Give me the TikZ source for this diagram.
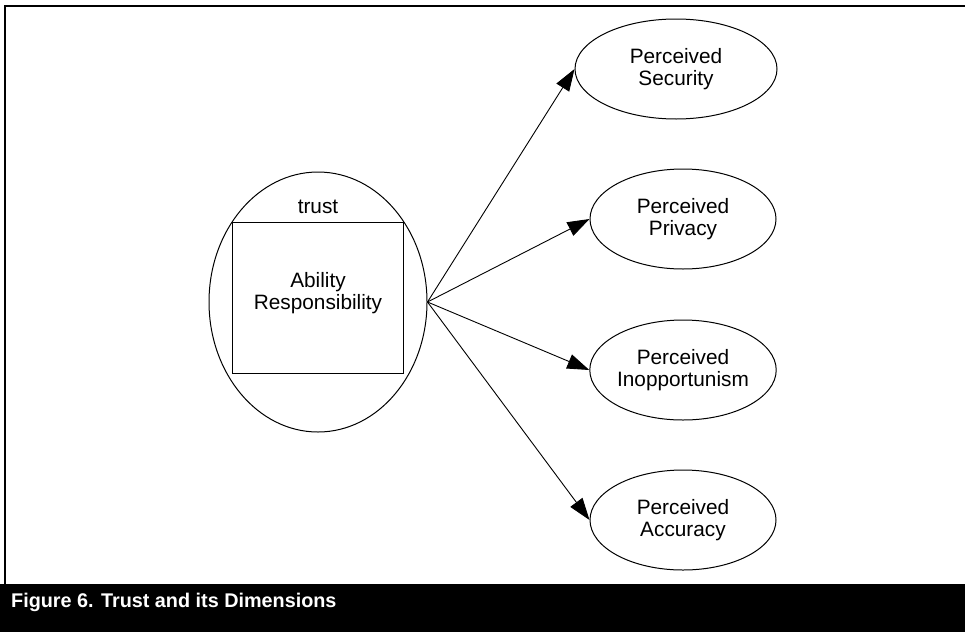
\documentclass[tikz,border=0pt]{standalone}
\usepackage{fontspec}
\setmainfont{Liberation Sans}
\usetikzlibrary{shapes.geometric,arrows.meta}
\tikzset{
  lbl/.style={font=\fontsize{20.8}{22.5}\selectfont, align=center, inner sep=0pt},
  dim/.style={ellipse, draw, line width=1pt, minimum width=186pt, minimum height=100pt, inner sep=0pt,
              font=\fontsize{20.8}{22.5}\selectfont, align=center},
  conn/.style={line width=0.9pt, -{Triangle[length=22pt,width=15pt]}}
}
\begin{document}
\begin{tikzpicture}[x=1pt,y=-1pt]
\useasboundingbox (0,0) rectangle (965,632);
% frame
\draw[line width=2.6pt] (5,590) -- (5,6) -- (975,6);
\fill[black] (0,584) rectangle (965,632);
\node[anchor=base west, inner sep=0pt, text=white, font=\fontsize{19.8}{22}\selectfont\bfseries] (cap) at (11,607) {Figure 6. Trust and its Dimensions};
% trust construct
\node[ellipse, draw, line width=1pt, minimum width=218pt, minimum height=260pt, inner sep=0pt] (trust) at (318,302) {};
\node[draw, line width=1pt, minimum width=171pt, minimum height=151pt, inner sep=0pt] (box) at (317.5,297.5) {};
\node[lbl, anchor=base] (tlabel) at (318,213) {trust};
\node[lbl] (ar) at (318,293) {Ability\\Responsibility};
% dimensions
\node[dim, minimum width=202pt] (sec) at (676,69) {Perceived\\Security};
\node[dim] (priv) at (683,219) {Perceived\\Privacy};
\node[dim] (inop) at (683,370) {Perceived\\Inopportunism};
\node[dim] (acc) at (683,520) {Perceived\\Accuracy};
% connectors
\draw[conn] (trust.east) -- (sec.west);
\draw[conn] (trust.east) -- (priv.west);
\draw[conn] (trust.east) -- (inop.west);
\draw[conn] (trust.east) -- (acc.west);
\end{tikzpicture}
\end{document}
